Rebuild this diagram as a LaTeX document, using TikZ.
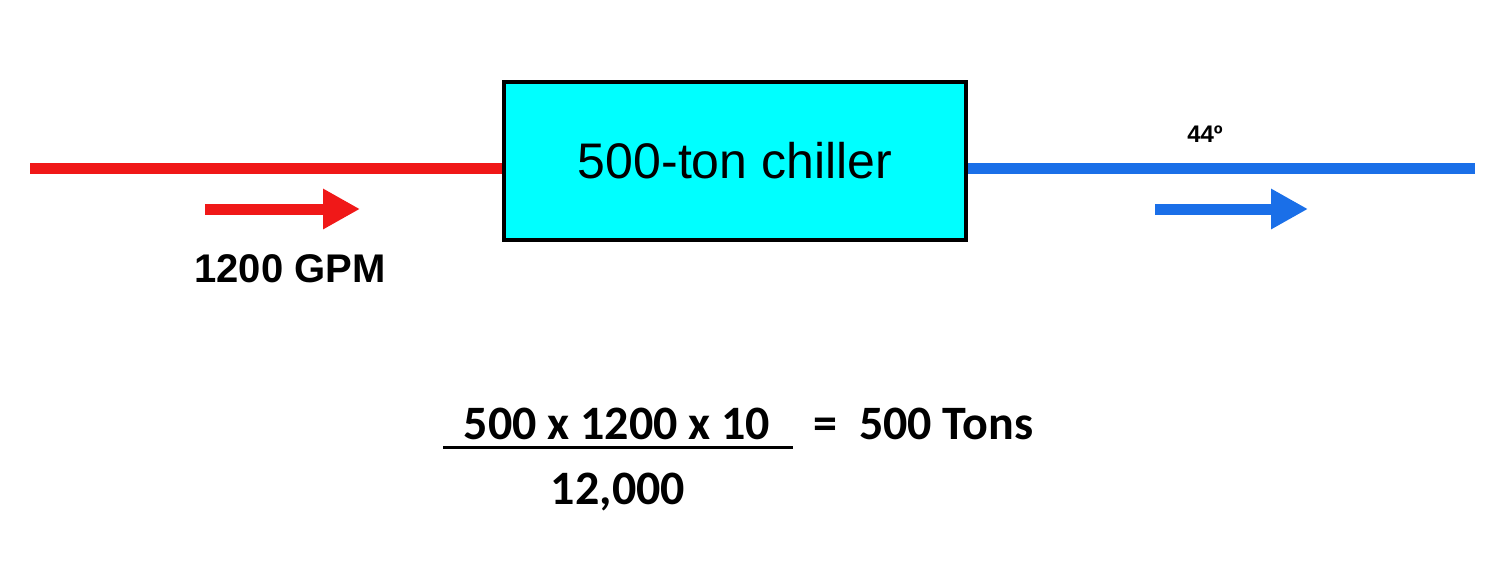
\documentclass[tikz,border=0pt]{standalone}
\usepackage{fontspec}
\setmainfont{Liberation Sans}
\newfontfamily\carfont{Carlito}
\usetikzlibrary{arrows.meta}
\definecolor{hot}{HTML}{F01818}
\definecolor{cold}{HTML}{1A6FE8}
\definecolor{boxfill}{HTML}{00FFFF}
\tikzset{pipe/.style={line width=11pt},
flow/.style={line width=11pt,-{Triangle[length=37pt,width=38pt]}}}
\begin{document}
\begin{tikzpicture}[x=1pt,y=-1pt]
\useasboundingbox (0,0) rectangle (1500,560);
\node[draw,line width=4pt,fill=boxfill,minimum width=462pt,minimum height=158pt,font=\fontsize{50}{54}\selectfont] (ch) at (735,161) {500-ton chiller};
\coordinate (in) at (30,168);
\coordinate (out) at (1475,168);
\draw[pipe,hot] (in) -- (in -| ch.west);
\draw[pipe,cold] (out -| ch.east) -- (out);
\coordinate (ra) at (205,209); \coordinate (rb) at (360,209);
\draw[flow,hot] (ra) -- (rb);
\coordinate (ba) at (1155,209); \coordinate (bb) at (1308,209);
\draw[flow,cold] (ba) -- (bb);
\node[font=\bfseries\fontsize{40}{44}\selectfont] (gpm) at (290,269) {1200 GPM};
\node[font=\bfseries\fontsize{24}{28}\selectfont] (t) at (1205,134) {44º};
\node[font=\carfont\bfseries\fontsize{48}{52}\selectfont] (num) at (617,424) {500 x 1200 x 10};
\node[font=\carfont\bfseries\fontsize{48}{52}\selectfont] (den) at (618,492) {12,000};
\coordinate (l1) at (443,447); \coordinate (l2) at (793,447);
\draw[line width=3pt] (l1) -- (l2);
\node[font=\carfont\bfseries\fontsize{48}{52}\selectfont,anchor=west] (res) at (810,424) {=\ \ 500 Tons};
\end{tikzpicture}
\end{document}
